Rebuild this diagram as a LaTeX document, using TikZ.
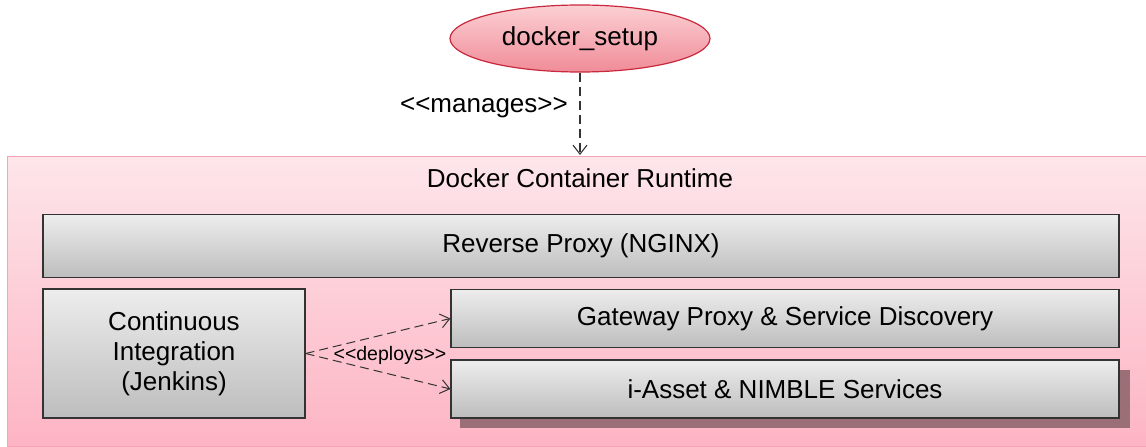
\documentclass[tikz,border=0pt]{standalone}
\usepackage{fontspec}
\setmainfont{Liberation Sans}
\usetikzlibrary{arrows.meta,shapes.geometric}
\definecolor{ellborder}{HTML}{C8283C}
\definecolor{elltop}{HTML}{FBD0D4}
\definecolor{ellbot}{HTML}{F08C98}
\definecolor{conttop}{HTML}{FDE6EA}
\definecolor{contbot}{HTML}{FDB4C4}
\definecolor{contborder}{HTML}{F5A5B5}
\definecolor{boxtop}{HTML}{EDEDED}
\definecolor{boxbot}{HTML}{BDBDBD}
\definecolor{boxborder}{HTML}{333333}
\definecolor{backbox}{HTML}{9A6F77}
\definecolor{arrowgray}{HTML}{333333}
\newcommand{\lt}{<\kern0pt<}
\newcommand{\gt}{>\kern0pt>}
\tikzset{
  x=1pt, y=-1pt,
  bigfont/.style={font=\fontsize{26}{31}\selectfont},
  smallfont/.style={font=\fontsize{19.5}{22}\selectfont},
  graybox/.style={draw=boxborder, line width=1.2pt, top color=boxtop, bottom color=boxbot,
    rectangle, inner sep=0pt, bigfont, align=center},
  dep/.style={draw=arrowgray, dashed, dash pattern=on 9pt off 5pt, line width=1.1pt,
    -{Straight Barb[length=9pt,width=14pt]}},
}
\begin{document}
\begin{tikzpicture}
\useasboundingbox (0,0) rectangle (1146,447);
% container
\node[draw=contborder, line width=1pt, top color=conttop, bottom color=contbot,
  rectangle, minimum width=1139pt, minimum height=290pt, inner sep=0pt] (cont) at (576.5,301) {};
\node[bigfont, inner sep=0pt] (title) at (580,178) {Docker Container Runtime};
% ellipse
\node[ellipse, draw=ellborder, line width=1.2pt, top color=elltop, bottom color=ellbot,
  minimum width=260pt, minimum height=67pt, inner sep=0pt, bigfont] (setup) at (580,38.5) {docker\_setup};
\coordinate (conttopc) at (580,155);
\draw[dep] (setup.south) -- (conttopc);
\node[bigfont, anchor=east, inner sep=0pt] (manages) at (568,108) {\lt manages\gt};
% boxes
\node[graybox, minimum width=1076pt, minimum height=63pt] (nginx) at (581,246) {Reverse Proxy (NGINX)};
\node[graybox, minimum width=262pt, minimum height=129pt, text width=250pt] (ci) at (174,353.5)
  {Continuous\\[-1pt]Integration\\[-1pt](Jenkins)};
\node[graybox, minimum width=668pt, minimum height=58pt] (gw) at (785,318.5) {Gateway Proxy \& Service Discovery};
\node[fill=backbox, rectangle, minimum width=670pt, minimum height=58pt, inner sep=0pt] (back) at (795,399) {};
\node[graybox, minimum width=668pt, minimum height=58pt] (asset) at (785,389) {i-Asset \& NIMBLE Services};
% deploys
\draw[dep, line width=1pt] (ci.east) -- (gw.west);
\draw[dep, line width=1pt] (ci.east) -- (asset.west);
\node[smallfont, inner sep=1pt] (deploys) at (390,355) {\lt deploys\gt};
\end{tikzpicture}
\end{document}
